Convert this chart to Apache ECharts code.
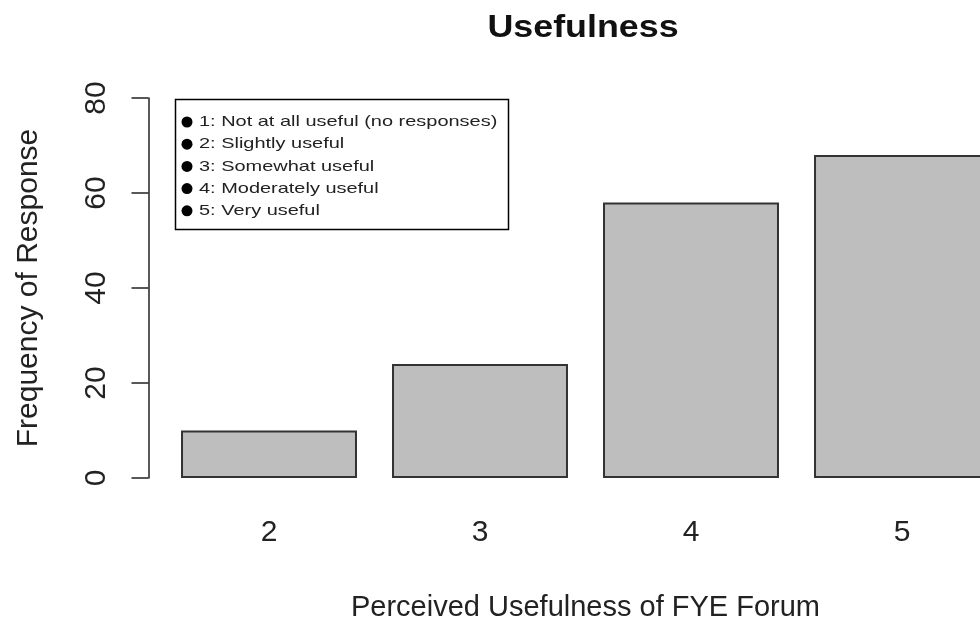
<!DOCTYPE html>
<html><head><meta charset="utf-8">
<script src="https://cdn.jsdelivr.net/npm/echarts@6/dist/echarts.min.js"></script>
<style>html,body{margin:0;padding:0;background:#fff}#c{width:980px;height:624px}</style>
</head><body><div id="c"></div>
<script>
var categories = ['2', '3', '4', '5'];
var frequencies = [10, 24, 58, 68];
var yTicks = [0, 20, 40, 60, 80];
var chartTitle = 'Usefulness';
var legendLabels = ['1: Not at all useful (no responses)', '2: Slightly useful', '3: Somewhat useful', '4: Moderately useful', '5: Very useful'];

var FONT = 'Liberation Sans, Arial, sans-serif';
var chart = echarts.init(document.getElementById('c'));
var graphics = [
  {type: 'text', x: 583, y: 28, scaleX: 1.12, originX: 0, originY: 0,
    style: {text: chartTitle, font: 'bold 32px ' + FONT, fill: '#111', align: 'center', verticalAlign: 'middle'}},
  {type: 'rect', shape: {x: 175.5, y: 99.5, width: 333, height: 130},
    style: {fill: '#fff', stroke: '#000', lineWidth: 1.5}, z: 10}
];
legendLabels.forEach(function (t, i) {
  var y = 122 + i * 22.2;
  graphics.push({type: 'circle', shape: {cx: 187, cy: y, r: 5.5}, style: {fill: '#000'}, z: 11});
  graphics.push({type: 'text', x: 199, y: y, scaleX: 1.33, originX: 0, originY: 0,
    style: {text: t, font: '15px ' + FONT, fill: '#222', verticalAlign: 'middle'}, z: 11});
});

chart.setOption({
  animation: false,
  grid: {left: 163.5, top: 98, width: 844, bottom: 146, containLabel: false, outerBoundsMode: 'none'},
  xAxis: {
    type: 'category', data: categories,
    axisLine: {show: false}, axisTick: {show: false},
    axisLabel: {fontFamily: FONT, fontSize: 30, color: '#222', margin: 40},
    name: 'Perceived Usefulness of FYE Forum', nameLocation: 'middle', nameGap: 115,
    nameTextStyle: {fontFamily: FONT, fontSize: 29, color: '#222'}
  },
  yAxis: {
    type: 'value', min: yTicks[0], max: yTicks[yTicks.length - 1], interval: 20,
    offset: 15,
    splitLine: {show: false},
    axisLine: {show: true, lineStyle: {color: '#222', width: 1.5}},
    axisTick: {show: true, length: 17, lineStyle: {color: '#222', width: 1.5}},
    axisLabel: {fontFamily: FONT, fontSize: 30, color: '#222', rotate: 90, margin: 37},
    name: 'Frequency of Response', nameLocation: 'middle', nameGap: 105, nameRotate: 90,
    nameTextStyle: {fontFamily: FONT, fontSize: 30, color: '#222'}
  },
  series: [{
    type: 'bar', data: frequencies, barCategoryGap: '16.6%',
    itemStyle: {color: '#bebebe', borderColor: '#333', borderWidth: 2}
  }],
  graphic: graphics
});
</script></body></html>
